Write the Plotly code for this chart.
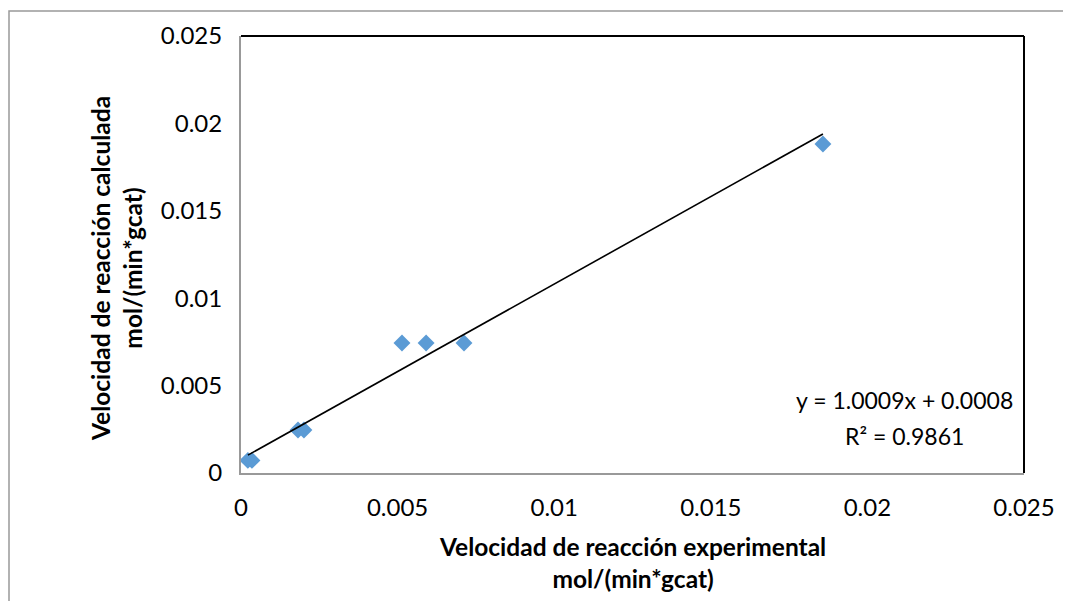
import plotly.graph_objects as go

x_exp = [0.00022, 0.00035, 0.00182, 0.00201, 0.00514, 0.00591, 0.00712, 0.01858]
y_calc = [0.00072, 0.00072, 0.00246, 0.00246, 0.00744, 0.00744, 0.00744, 0.01882]
slope = 1.0009
intercept = 0.0008
eq_text = "y = 1.0009x + 0.0008"
r2_text = "R² = 0.9861"
tick_vals = [0, 0.005, 0.01, 0.015, 0.02, 0.025]
tick_text = ["0", "0.005", "0.01", "0.015", "0.02", "0.025"]

FONT = "Lato"
# browser body margin offset (8px)
OFF = 8
L, R, T, B = 241, 1024, 36, 473  # plot-area pixel edges in the screenshot
W, H = 783, 437


def px(xp):
    return (xp - L) / W


def py(yp):
    return (B - yp) / H


fig = go.Figure()
fig.add_trace(go.Scatter(
    x=x_exp, y=y_calc, mode="markers",
    marker=dict(symbol="diamond", size=13, color="#5B9BD5"),
    showlegend=False))
xl = [min(x_exp), max(x_exp)]
fig.add_trace(go.Scatter(
    x=xl, y=[slope * v + intercept for v in xl], mode="lines",
    line=dict(color="black", width=1.6), showlegend=False))

fig.update_layout(
    width=1071, height=601,
    margin=dict(l=L - OFF, r=1071 - (R - OFF), t=T - OFF, b=601 - (B - OFF)),
    paper_bgcolor="white", plot_bgcolor="white",
    font=dict(family=FONT, size=24, color="black"),
    xaxis=dict(range=[0, 0.025], tickvals=tick_vals, ticktext=tick_text,
               showgrid=False, zeroline=False, showline=True, linecolor="#999999",
               linewidth=2, ticks="", ticklabelstandoff=12,
               tickfont=dict(size=24, family=FONT)),
    yaxis=dict(range=[0, 0.025], tickvals=tick_vals, ticktext=tick_text,
               showgrid=False, zeroline=False, showline=True, linecolor="#999999",
               linewidth=2, ticks="", ticklabelstandoff=12,
               tickfont=dict(size=24, family=FONT)),
)
# top and right black frame lines
fig.add_shape(type="line", xref="paper", yref="paper", x0=0, x1=1, y0=1, y1=1,
              line=dict(color="black", width=2))
fig.add_shape(type="line", xref="paper", yref="paper", x0=1, x1=1, y0=0, y1=1,
              line=dict(color="black", width=2))
# outer chart border
fig.add_shape(type="rect", xref="paper", yref="paper",
              x0=px(9), x1=px(1090), y0=py(620), y1=py(11),
              line=dict(color="#999999", width=1.5), layer="below")

fig.add_annotation(xref="paper", yref="paper", x=0.5, y=py(562),
                   xanchor="center", yanchor="middle",
                   text="<b>Velocidad de reacción experimental<br>mol/(min*gcat)</b>",
                   showarrow=False, font=dict(size=24.5, family=FONT), align="center")
fig.add_annotation(xref="paper", yref="paper", x=px(116), y=py(269),
                   xanchor="center", yanchor="middle",
                   text="<b>Velocidad de reacción calculada<br>mol/(min*gcat)</b>",
                   showarrow=False, textangle=-90, font=dict(size=24.5, family=FONT), align="center")
fig.add_annotation(xref="paper", yref="paper", x=px(904), y=py(400),
                   xanchor="center", yanchor="middle",
                   text=eq_text, showarrow=False, font=dict(size=23, family=FONT))
fig.add_annotation(xref="paper", yref="paper", x=px(904), y=py(436),
                   xanchor="center", yanchor="middle",
                   text=r2_text, showarrow=False, font=dict(size=23, family=FONT))

fig.write_html("out.html")
